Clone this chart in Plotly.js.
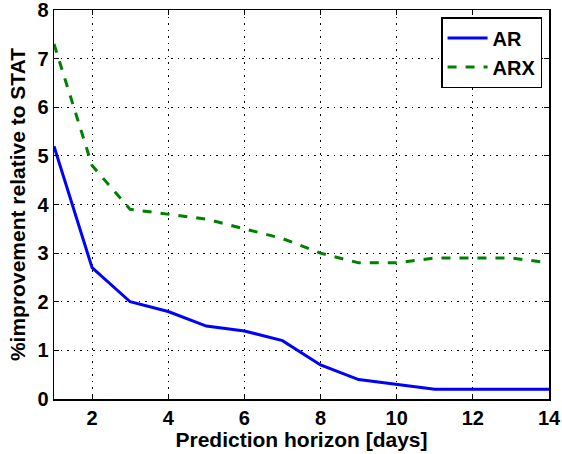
<!DOCTYPE html>
<html><head><meta charset="utf-8">
<script src="https://cdn.plot.ly/plotly-3.0.1.min.js"></script>
<style>html,body{margin:0;padding:0;background:#fff}#c{width:562px;height:454px}</style>
</head><body><div id="c"></div>
<script>
const horizon = [1,2,3,4,5,6,7,8,9,10,11,12,13,14];
const arValues = [5.2,2.7,2.0,1.8,1.5,1.4,1.2,0.7,0.4,0.3,0.2,0.2,0.2,0.2];
const arxValues = [7.3,4.8,3.9,3.8,3.7,3.5,3.3,3.0,2.8,2.8,2.9,2.9,2.9,2.8];
const xTicks = [2,4,6,8,10,12,14];
const yTicks = [0,1,2,3,4,5,6,7,8];

const fam = '"Liberation Sans", Arial, Helvetica, sans-serif';
const tickFont = {family:fam, size:20, color:'#000', weight:700};
const titleFont = {family:fam, size:21, color:'#000', weight:700};
const legendFont = {family:fam, size:20, color:'#000', weight:700};
const traces = [
  {x:horizon, y:arValues, name:'AR', mode:'lines', line:{color:'#0000ff', width:3}},
  {x:horizon, y:arxValues, name:'ARX', mode:'lines', line:{color:'#008000', width:3, dash:'dash'}}
];
const axisCommon = {showline:true, mirror:'ticks', linecolor:'#000', linewidth:1.5,
  ticks:'inside', ticklen:5, tickcolor:'#000', tickwidth:1,
  showgrid:true, gridcolor:'#000', griddash:'1.5px,5px', gridwidth:1, zeroline:false,
  tickfont:tickFont, ticklabeloverflow:'allow'};
const layout = {
  width:562, height:454,
  margin:{l:54, r:13, t:10, b:55},
  paper_bgcolor:'#fff', plot_bgcolor:'#fff',
  showlegend:true,
  legend:{x:0.986, xanchor:'right', y:0.982, yanchor:'top', bgcolor:'#fff',
    bordercolor:'#000', borderwidth:1.5, font:legendFont, tracegroupgap:0,
    itemwidth:40},
  xaxis:Object.assign({}, axisCommon, {range:[1,14], tickvals:xTicks,
    title:{text:'Prediction horizon [days]', font:titleFont, standoff:2}}),
  yaxis:Object.assign({}, axisCommon, {range:[0,8], tickvals:yTicks,
    title:{text:'%improvement relative to STAT', font:titleFont, standoff:6}})
};
Plotly.newPlot('c', traces, layout, {displayModeBar:false, staticPlot:true});
</script></body></html>
